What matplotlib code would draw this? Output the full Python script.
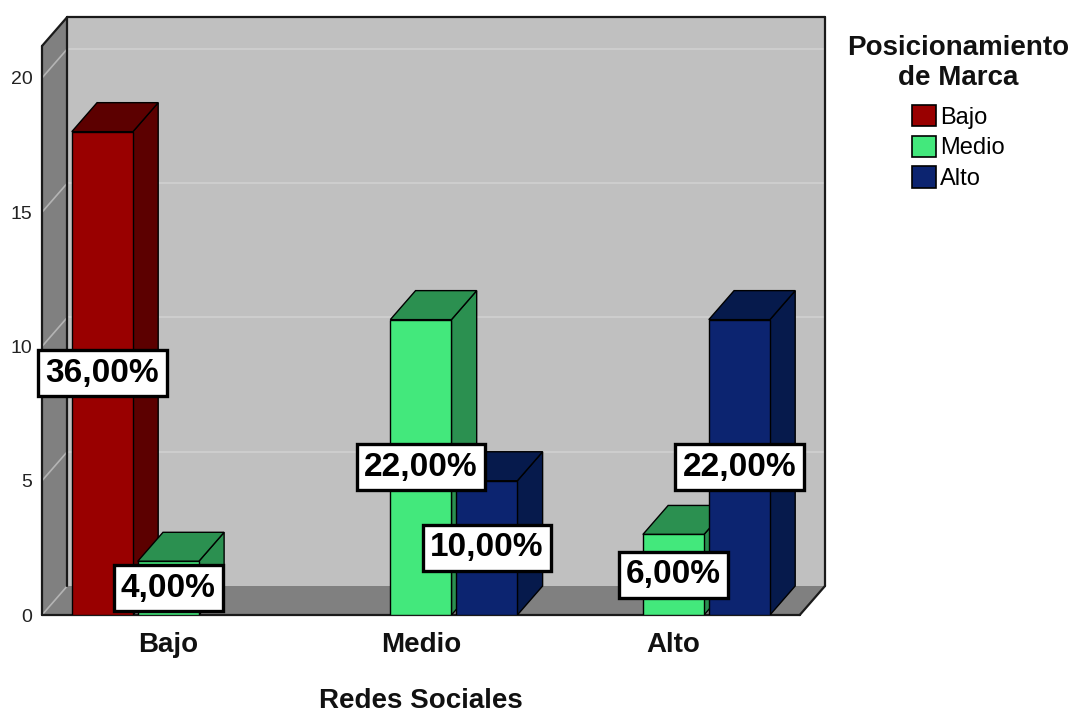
import matplotlib.pyplot as plt
from matplotlib.patches import Polygon, Patch

plt.rcParams['font.family'] = ['Liberation Sans', 'DejaVu Sans']

# counts per Posicionamiento level, one value per Redes Sociales category
categories = ['Bajo', 'Medio', 'Alto']
series_names = ['Bajo', 'Medio', 'Alto']
bajo = [18, 0, 0]
medio = [2, 11, 3]
alto = [0, 5, 11]
total = 50
yticks = [0, 5, 10, 15, 20]

front_colors = ['#990000', '#43e87c', '#0c2470']
shade_colors = ['#5c0000', '#2b9050', '#061a4c']

W, H = 1081, 713
fig = plt.figure(figsize=(W / 100, H / 100), dpi=100)
ax = fig.add_axes([42 / W, 98 / H, 783 / W, 598 / H])

# 3d box: front plane spans x0..x1, back plane shifted by (dx, dy)
dx, dy = 0.1, 1.08
x0, x1 = -0.5, 2.5
ymax = 22.27
ytop = ymax - dy
ax.set_xlim(x0, x1 + dx)
ax.set_ylim(0, ymax)
ax.set_facecolor('none')
for s in ax.spines.values():
    s.set_visible(False)

back = Polygon([(x0 + dx, dy), (x1 + dx, dy), (x1 + dx, ymax), (x0 + dx, ymax)],
               fc='#c0c0c0', ec='none', zorder=0)
left = Polygon([(x0, 0), (x0 + dx, dy), (x0 + dx, ymax), (x0, ytop)],
               fc='#808080', ec='none', zorder=0)
floor = Polygon([(x0, 0), (x1, 0), (x1 + dx, dy), (x0 + dx, dy)],
                fc='#808080', ec='none', zorder=0)
for p in (back, left, floor):
    p.set_clip_on(False)
    ax.add_patch(p)

for v in yticks:
    if v > 0:
        ax.plot([x0 + dx, x1 + dx], [v + dy, v + dy], color='#d0d0d0', lw=1.2, zorder=1)
    ax.plot([x0, x0 + dx], [v, v + dy], color='#b4b4b4', lw=1.2, zorder=1)

edge_kw = dict(color='#1a1a1a', lw=1.6, zorder=2, clip_on=False, solid_capstyle='round')
ax.plot([x0 + dx, x0 + dx], [dy, ymax], **edge_kw)
ax.plot([x0 + dx, x1 + dx], [ymax, ymax], **edge_kw)
ax.plot([x1 + dx, x1 + dx], [dy, ymax], **edge_kw)
ax.plot([x0, x0], [0, ytop], **edge_kw)
ax.plot([x0, x0 + dx], [ytop, ymax], **edge_kw)
ax.plot([x0, x1], [0, 0], **edge_kw)
ax.plot([x1, x1 + dx], [0, dy], **edge_kw)

# bars, drawn left to right so fronts cover the neighbour's side face
width = 0.242
step = 0.261
z = 5
for i in range(len(categories)):
    for j, vals in enumerate([bajo, medio, alto]):
        v = vals[i]
        if v == 0:
            continue
        xc = i + (j - 1) * step
        xl, xr = xc - width / 2, xc + width / 2
        side = Polygon([(xr, 0), (xr + dx, dy), (xr + dx, v + dy), (xr, v)],
                       fc=shade_colors[j], ec='black', lw=1, zorder=z)
        top = Polygon([(xl, v), (xr, v), (xr + dx, v + dy), (xl + dx, v + dy)],
                      fc=shade_colors[j], ec='black', lw=1, zorder=z)
        ax.add_patch(side)
        ax.add_patch(top)
        ax.bar(xc, v, width=width, color=front_colors[j], edgecolor='black',
               lw=1, zorder=z + 0.5)
        z += 1

# percentage labels at half height of each bar
for i in range(len(categories)):
    for j, vals in enumerate([bajo, medio, alto]):
        v = vals[i]
        if v == 0:
            continue
        xc = i + (j - 1) * step
        pct = v / total * 100
        ax.text(xc, v / 2, f'{pct:.2f}%'.replace('.', ','), ha='center', va='center',
                fontsize=24, fontweight='bold', color='black', zorder=50,
                bbox=dict(boxstyle='square,pad=0.22', fc='white', ec='black', lw=2.4))

ax.set_yticks(yticks)
ax.tick_params(axis='y', length=0, pad=7, labelsize=14, labelcolor='#222222')
ax.set_xticks(range(len(categories)), categories)
ax.tick_params(axis='x', length=0, pad=12, labelsize=20, labelcolor='#111111')
for lbl in ax.get_xticklabels():
    lbl.set_fontweight('bold')

ax.set_xlabel('Redes Sociales', fontsize=20, fontweight='bold', color='#111111')
ax.xaxis.set_label_coords((1 - x0) / (x1 + dx - x0), -0.122)

fig.text(958 / W, 1 - 63 / H, 'Posicionamiento\nde Marca', ha='center', va='center',
         multialignment='center', fontsize=20, fontweight='bold', color='#111111',
         linespacing=1.16)

handles = [Patch(fc=c, ec='black', lw=1.2) for c in front_colors]
leg = fig.legend(handles, series_names, loc='upper left',
                 bbox_to_anchor=(912 / W, 1 - 105 / H), frameon=False,
                 prop={'family': ['Liberation Sans Narrow', 'Liberation Sans'], 'size': 17},
                 handlelength=1.0, handleheight=1.0,
                 handletextpad=0.2, labelspacing=0.3, borderpad=0, borderaxespad=0)

fig.savefig('out.png', dpi=100)
